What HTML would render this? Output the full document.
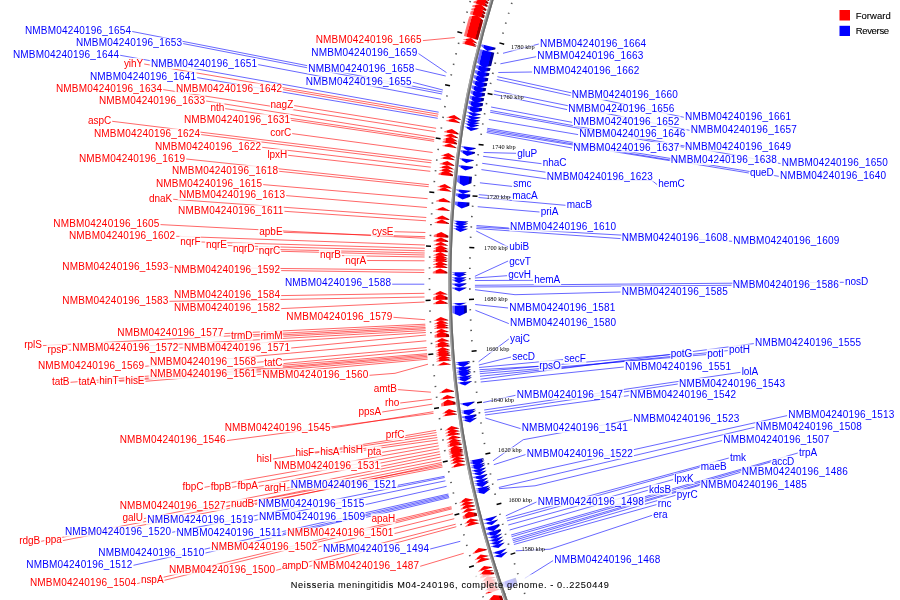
<!DOCTYPE html>
<html><head><meta charset="utf-8"><title>Neisseria meningitidis M04-240196 genome map</title>
<style>
html,body{margin:0;padding:0;background:#fff}
svg{display:block;will-change:transform}
text{font-family:"Liberation Sans",sans-serif;font-size:10px;letter-spacing:0.2px}
.r{fill:#f00}.b{fill:#00f}
.lr{stroke:#f00;stroke-width:.6;fill:none}
.lb{stroke:#00f;stroke-width:.6;fill:none}
.k{font-family:"Liberation Serif",serif;font-size:6.3px;letter-spacing:0;fill:#000;text-anchor:middle}
.bg{fill:#fff;fill-opacity:.85}
.t{fill:#000;font-size:9.2px;letter-spacing:0;stroke:#000;stroke-width:.07}
.s{letter-spacing:-.05px}
.lg{fill:#000;font-size:9.5px;letter-spacing:.3px;stroke:#000;stroke-width:.1}
</style></head><body>
<svg width="900" height="600" viewBox="0 0 900 600">
<defs>
<linearGradient id="gr" x1="0" x2="1" y1="0" y2="0"><stop offset="0" stop-color="#ff7c7c"/><stop offset=".18" stop-color="#ff6060"/><stop offset=".21" stop-color="#ff0000"/><stop offset=".79" stop-color="#ff0000"/><stop offset=".82" stop-color="#a80000"/><stop offset="1" stop-color="#960000"/></linearGradient>
<linearGradient id="gb" x1="0" x2="1" y1="0" y2="0"><stop offset="0" stop-color="#7c7cff"/><stop offset=".18" stop-color="#6060ff"/><stop offset=".21" stop-color="#0000ff"/><stop offset=".79" stop-color="#0000ff"/><stop offset=".82" stop-color="#0000a8"/><stop offset="1" stop-color="#000096"/></linearGradient>
<linearGradient id="gk" x1="0" x2="1" y1="0" y2="0"><stop offset="0" stop-color="#b4b4b4"/><stop offset=".45" stop-color="#a0a0a0"/><stop offset=".55" stop-color="#7a7a7a"/><stop offset="1" stop-color="#6a6a6a"/></linearGradient>
</defs>
<rect width="900" height="600" fill="#fff"/>

<path d="M495.1 -10A947.1 947.1 0 0 0 509.6 610" stroke="#808080" stroke-width="3.1" fill="none"/>
<path d="M494.1 -10A948 948 0 0 0 508.6 610" stroke="#a6a6a6" stroke-width="1.2" fill="none"/>
<path d="M496 -10A946.2 946.2 0 0 0 510.5 610" stroke="#6c6c6c" stroke-width="1.4" fill="none"/>
<polygon transform="translate(505.7 600.3) rotate(-19.82)" points="-9.5,-9 -2.2,-5.6 -2.2,9 -16.8,9 -16.8,-5.6" fill="url(#gr)"/>
<polygon transform="translate(501 586.8) rotate(-18.95)" points="-9.5,-2.2 -2.2,1.2 -2.2,2.2 -16.8,2.2 -16.8,1.2" fill="url(#gr)"/>
<polygon transform="translate(499.9 583.6) rotate(-18.75)" points="-9.5,-1.2 -2.2,2.2 -2.2,2.5 -16.8,2.5 -16.8,2.2" fill="url(#gr)"/>
<polygon transform="translate(499 580.9) rotate(-18.58)" points="-9.5,-1.7 -2.2,1.7 -2.2,2 -16.8,2 -16.8,1.7" fill="url(#gr)"/>
<polygon transform="translate(498.2 578.6) rotate(-18.43)" points="-9.5,-0.8 -2.2,2.6 -2.2,2.9 -16.8,2.9 -16.8,2.6" fill="url(#gr)"/>
<polygon transform="translate(497.6 576.8) rotate(-18.32)" points="-9.5,-1 -2.2,2.4 -2.2,2.7 -16.8,2.7 -16.8,2.4" fill="url(#gr)"/>
<polygon transform="translate(496.9 574.6) rotate(-18.17)" points="-9.5,-1.4 -2.2,2 -2.2,2.3 -16.8,2.3 -16.8,2" fill="url(#gr)"/>
<polygon transform="translate(495.7 570.9) rotate(-17.94)" points="-9.5,-2.5 -2.2,0.9 -2.2,2.5 -16.8,2.5 -16.8,0.9" fill="url(#gr)"/>
<polygon transform="translate(494.6 567.6) rotate(-17.73)" points="-9.5,-1 -2.2,2.4 -2.2,2.7 -16.8,2.7 -16.8,2.4" fill="url(#gr)"/>
<polygon transform="translate(493.7 564.9) rotate(-17.56)" points="-9.5,-1.9 -2.2,1.5 -2.2,1.9 -16.8,1.9 -16.8,1.5" fill="url(#gr)"/>
<polygon transform="translate(491.1 556.6) rotate(-17.03)" points="-9.5,-1.7 -2.2,1.7 -2.2,2 -16.8,2 -16.8,1.7" fill="url(#gr)"/>
<polygon transform="translate(490.2 553.4) rotate(-16.83)" points="-9.5,-1.7 -2.2,1.7 -2.2,2 -16.8,2 -16.8,1.7" fill="url(#gr)"/>
<polygon transform="translate(488.4 547.3) rotate(-16.45)" points="-9.5,-2.1 -2.2,1.3 -2.2,2.1 -16.8,2.1 -16.8,1.3" fill="url(#gr)"/>
<polygon transform="translate(480.9 520.6) rotate(-14.77)" points="-9.5,-1.6 -2.2,1.8 -2.2,2.1 -16.8,2.1 -16.8,1.8" fill="url(#gr)"/>
<polygon transform="translate(480.1 517.6) rotate(-14.58)" points="-9.5,-1.5 -2.2,1.9 -2.2,2.2 -16.8,2.2 -16.8,1.9" fill="url(#gr)"/>
<polygon transform="translate(478.7 512.2) rotate(-14.24)" points="-9.5,-3.1 -2.2,0.3 -2.2,3.1 -16.8,3.1 -16.8,0.3" fill="url(#gr)"/>
<polygon transform="translate(477.5 507.5) rotate(-13.95)" points="-9.5,-1.8 -2.2,1.6 -2.2,1.8 -16.8,1.8 -16.8,1.6" fill="url(#gr)"/>
<polygon transform="translate(476.6 503.7) rotate(-13.72)" points="-9.5,-2.1 -2.2,1.3 -2.2,2.1 -16.8,2.1 -16.8,1.3" fill="url(#gr)"/>
<polygon transform="translate(475.8 500.3) rotate(-13.50)" points="-9.5,-1.5 -2.2,1.9 -2.2,2.2 -16.8,2.2 -16.8,1.9" fill="url(#gr)"/>
<polygon transform="translate(475.1 497.4) rotate(-13.32)" points="-9.5,-1.6 -2.2,1.8 -2.2,2.1 -16.8,2.1 -16.8,1.8" fill="url(#gr)"/>
<polygon transform="translate(467.5 462.6) rotate(-11.17)" points="-9.5,-1.6 -2.2,1.8 -2.2,2.1 -16.8,2.1 -16.8,1.8" fill="url(#gr)"/>
<polygon transform="translate(466.9 459.2) rotate(-10.96)" points="-9.5,-1.9 -2.2,1.5 -2.2,1.9 -16.8,1.9 -16.8,1.5" fill="url(#gr)"/>
<polygon transform="translate(466.3 456) rotate(-10.76)" points="-9.5,-1.4 -2.2,2 -2.2,2.3 -16.8,2.3 -16.8,2" fill="url(#gr)"/>
<polygon transform="translate(465.7 453.3) rotate(-10.59)" points="-9.5,-1.5 -2.2,1.9 -2.2,2.2 -16.8,2.2 -16.8,1.9" fill="url(#gr)"/>
<polygon transform="translate(465.3 451.1) rotate(-10.46)" points="-9.5,-0.8 -2.2,2.6 -2.2,2.9 -16.8,2.9 -16.8,2.6" fill="url(#gr)"/>
<polygon transform="translate(465 449.2) rotate(-10.34)" points="-9.5,-1.1 -2.2,2.3 -2.2,2.6 -16.8,2.6 -16.8,2.3" fill="url(#gr)"/>
<polygon transform="translate(464.7 447.5) rotate(-10.24)" points="-9.5,-0.6 -2.2,2.8 -2.2,3.1 -16.8,3.1 -16.8,2.8" fill="url(#gr)"/>
<polygon transform="translate(464.5 446.3) rotate(-10.17)" points="-9.5,-0.7 -2.2,2.7 -2.2,3 -16.8,3 -16.8,2.7" fill="url(#gr)"/>
<polygon transform="translate(464.2 444.8) rotate(-10.07)" points="-9.5,-0.9 -2.2,2.5 -2.2,2.8 -16.8,2.8 -16.8,2.5" fill="url(#gr)"/>
<polygon transform="translate(463.8 442.3) rotate(-9.92)" points="-9.5,-1.7 -2.2,1.7 -2.2,2 -16.8,2 -16.8,1.7" fill="url(#gr)"/>
<polygon transform="translate(463.4 439.9) rotate(-9.77)" points="-9.5,-0.7 -2.2,2.7 -2.2,3 -16.8,3 -16.8,2.7" fill="url(#gr)"/>
<polygon transform="translate(463 438.1) rotate(-9.66)" points="-9.5,-1.2 -2.2,2.2 -2.2,2.5 -16.8,2.5 -16.8,2.2" fill="url(#gr)"/>
<polygon transform="translate(462.6 435.3) rotate(-9.49)" points="-9.5,-1.6 -2.2,1.8 -2.2,2.1 -16.8,2.1 -16.8,1.8" fill="url(#gr)"/>
<polygon transform="translate(462 431.9) rotate(-9.28)" points="-9.5,-1.9 -2.2,1.5 -2.2,1.9 -16.8,1.9 -16.8,1.5" fill="url(#gr)"/>
<polygon transform="translate(461.5 428.7) rotate(-9.09)" points="-9.5,-1.4 -2.2,2 -2.2,2.3 -16.8,2.3 -16.8,2" fill="url(#gr)"/>
<polygon transform="translate(461.1 426) rotate(-8.92)" points="-9.5,-1.5 -2.2,1.9 -2.2,2.2 -16.8,2.2 -16.8,1.9" fill="url(#gr)"/>
<polygon transform="translate(458.9 411.8) rotate(-8.05)" points="-9.5,-1.4 -2.2,2 -2.2,2.3 -16.8,2.3 -16.8,2" fill="url(#gr)"/>
<polygon transform="translate(458.6 409.1) rotate(-7.89)" points="-9.5,-1.4 -2.2,2 -2.2,2.3 -16.8,2.3 -16.8,2" fill="url(#gr)"/>
<polygon transform="translate(457.5 401.3) rotate(-7.41)" points="-9.5,-3 -2.2,0.4 -2.2,3 -16.8,3 -16.8,0.4" fill="url(#gr)"/>
<polygon transform="translate(456.8 395.8) rotate(-7.08)" points="-9.5,-2 -2.2,1.4 -2.2,2 -16.8,2 -16.8,1.4" fill="url(#gr)"/>
<polygon transform="translate(456 389.4) rotate(-6.69)" points="-9.5,-2 -2.2,1.4 -2.2,2 -16.8,2 -16.8,1.4" fill="url(#gr)"/>
<polygon transform="translate(453.3 362.7) rotate(-5.06)" points="-9.5,-1.5 -2.2,1.5 -16.8,1.5" fill="url(#gr)"/>
<polygon transform="translate(452.9 358.4) rotate(-4.80)" points="-9.5,-1.9 -2.2,1.5 -2.2,1.9 -16.8,1.9 -16.8,1.5" fill="url(#gr)"/>
<polygon transform="translate(452.7 355.5) rotate(-4.63)" points="-9.5,-1 -2.2,2.4 -2.2,2.7 -16.8,2.7 -16.8,2.4" fill="url(#gr)"/>
<polygon transform="translate(452.5 353.2) rotate(-4.48)" points="-9.5,-1.4 -2.2,2 -2.2,2.3 -16.8,2.3 -16.8,2" fill="url(#gr)"/>
<polygon transform="translate(452.3 351.1) rotate(-4.36)" points="-9.5,-0.7 -2.2,2.7 -2.2,3 -16.8,3 -16.8,2.7" fill="url(#gr)"/>
<polygon transform="translate(452.2 349.5) rotate(-4.26)" points="-9.5,-0.9 -2.2,2.5 -2.2,2.8 -16.8,2.8 -16.8,2.5" fill="url(#gr)"/>
<polygon transform="translate(452.1 347.5) rotate(-4.14)" points="-9.5,-1.1 -2.2,2.3 -2.2,2.6 -16.8,2.6 -16.8,2.3" fill="url(#gr)"/>
<polygon transform="translate(451.8 344.3) rotate(-3.95)" points="-9.5,-2.1 -2.2,1.3 -2.2,2.1 -16.8,2.1 -16.8,1.3" fill="url(#gr)"/>
<polygon transform="translate(451.6 341.4) rotate(-3.77)" points="-9.5,-0.9 -2.2,2.5 -2.2,2.8 -16.8,2.8 -16.8,2.5" fill="url(#gr)"/>
<polygon transform="translate(451.5 339) rotate(-3.62)" points="-9.5,-1.6 -2.2,1.8 -2.2,2.1 -16.8,2.1 -16.8,1.8" fill="url(#gr)"/>
<polygon transform="translate(451.2 333.9) rotate(-3.32)" points="-9.5,-3 -2.2,0.4 -2.2,3 -16.8,3 -16.8,0.4" fill="url(#gr)"/>
<polygon transform="translate(450.9 329.6) rotate(-3.05)" points="-9.5,-1.4 -2.2,2 -2.2,2.3 -16.8,2.3 -16.8,2" fill="url(#gr)"/>
<polygon transform="translate(450.8 326.2) rotate(-2.85)" points="-9.5,-2 -2.2,1.4 -2.2,2 -16.8,2 -16.8,1.4" fill="url(#gr)"/>
<polygon transform="translate(450.6 323.2) rotate(-2.67)" points="-9.5,-1 -2.2,2.4 -2.2,2.7 -16.8,2.7 -16.8,2.4" fill="url(#gr)"/>
<polygon transform="translate(450.5 321) rotate(-2.54)" points="-9.5,-1.2 -2.2,2.2 -2.2,2.5 -16.8,2.5 -16.8,2.2" fill="url(#gr)"/>
<polygon transform="translate(450.4 318.2) rotate(-2.37)" points="-9.5,-1.6 -2.2,1.8 -2.2,2.1 -16.8,2.1 -16.8,1.8" fill="url(#gr)"/>
<polygon transform="translate(449.9 301.7) rotate(-1.37)" points="-9.5,-2.1 -2.2,1.3 -2.2,2.1 -16.8,2.1 -16.8,1.3" fill="url(#gr)"/>
<polygon transform="translate(449.8 296.7) rotate(-1.07)" points="-9.5,-3 -2.2,0.4 -2.2,3 -16.8,3 -16.8,0.4" fill="url(#gr)"/>
<polygon transform="translate(449.7 292.3) rotate(-0.80)" points="-9.5,-1.5 -2.2,1.9 -2.2,2.2 -16.8,2.2 -16.8,1.9" fill="url(#gr)"/>
<polygon transform="translate(449.6 271.1) rotate(0.49)" points="-9.5,-2.5 -2.2,0.9 -2.2,2.5 -16.8,2.5 -16.8,0.9" fill="url(#gr)"/>
<polygon transform="translate(449.7 266.1) rotate(0.78)" points="-9.5,-2 -2.2,1.4 -2.2,2 -16.8,2 -16.8,1.4" fill="url(#gr)"/>
<polygon transform="translate(449.7 262.6) rotate(1.00)" points="-9.5,-1.1 -2.2,2.3 -2.2,2.6 -16.8,2.6 -16.8,2.3" fill="url(#gr)"/>
<polygon transform="translate(449.8 259.9) rotate(1.16)" points="-9.5,-1.6 -2.2,1.8 -2.2,2.1 -16.8,2.1 -16.8,1.8" fill="url(#gr)"/>
<polygon transform="translate(449.8 257.5) rotate(1.31)" points="-9.5,-0.8 -2.2,2.6 -2.2,2.9 -16.8,2.9 -16.8,2.6" fill="url(#gr)"/>
<polygon transform="translate(449.9 255.8) rotate(1.41)" points="-9.5,-1 -2.2,2.4 -2.2,2.7 -16.8,2.7 -16.8,2.4" fill="url(#gr)"/>
<polygon transform="translate(449.9 253.6) rotate(1.54)" points="-9.5,-1.3 -2.2,2.1 -2.2,2.4 -16.8,2.4 -16.8,2.1" fill="url(#gr)"/>
<polygon transform="translate(450 250) rotate(1.76)" points="-9.5,-2.4 -2.2,1 -2.2,2.4 -16.8,2.4 -16.8,1" fill="url(#gr)"/>
<polygon transform="translate(450.2 246.6) rotate(1.96)" points="-9.5,-1 -2.2,2.4 -2.2,2.7 -16.8,2.7 -16.8,2.4" fill="url(#gr)"/>
<polygon transform="translate(450.3 244) rotate(2.13)" points="-9.5,-1.8 -2.2,1.6 -2.2,1.9 -16.8,1.9 -16.8,1.6" fill="url(#gr)"/>
<polygon transform="translate(450.4 240) rotate(2.36)" points="-9.5,-2.2 -2.2,1.2 -2.2,2.2 -16.8,2.2 -16.8,1.2" fill="url(#gr)"/>
<polygon transform="translate(450.6 235.1) rotate(2.66)" points="-9.5,-2.7 -2.2,0.7 -2.2,2.7 -16.8,2.7 -16.8,0.7" fill="url(#gr)"/>
<polygon transform="translate(451.3 222.1) rotate(3.45)" points="-9.5,-2 -2.2,1.4 -2.2,2 -16.8,2 -16.8,1.4" fill="url(#gr)"/>
<polygon transform="translate(451.6 218.1) rotate(3.69)" points="-9.5,-2 -2.2,1.4 -2.2,2 -16.8,2 -16.8,1.4" fill="url(#gr)"/>
<polygon transform="translate(452.2 209.4) rotate(4.22)" points="-9.5,-1.8 -2.2,1.6 -2.2,1.8 -16.8,1.8 -16.8,1.6" fill="url(#gr)"/>
<polygon transform="translate(452.8 200.8) rotate(4.74)" points="-9.5,-2 -2.2,1.4 -2.2,2 -16.8,2 -16.8,1.4" fill="url(#gr)"/>
<polygon transform="translate(453.8 189.8) rotate(5.41)" points="-9.5,-1.6 -2.2,1.8 -2.2,2.1 -16.8,2.1 -16.8,1.8" fill="url(#gr)"/>
<polygon transform="translate(454.1 186.6) rotate(5.61)" points="-9.5,-1.6 -2.2,1.8 -2.2,2.1 -16.8,2.1 -16.8,1.8" fill="url(#gr)"/>
<polygon transform="translate(455.4 174.1) rotate(6.37)" points="-9.5,-2.5 -2.2,0.9 -2.2,2.5 -16.8,2.5 -16.8,0.9" fill="url(#gr)"/>
<polygon transform="translate(455.9 170.3) rotate(6.59)" points="-9.5,-1.3 -2.2,2.1 -2.2,2.4 -16.8,2.4 -16.8,2.1" fill="url(#gr)"/>
<polygon transform="translate(456.2 167.6) rotate(6.76)" points="-9.5,-1.5 -2.2,1.9 -2.2,2.2 -16.8,2.2 -16.8,1.9" fill="url(#gr)"/>
<polygon transform="translate(456.6 164.2) rotate(6.97)" points="-9.5,-2 -2.2,1.4 -2.2,2 -16.8,2 -16.8,1.4" fill="url(#gr)"/>
<polygon transform="translate(457.3 158.3) rotate(7.32)" points="-9.5,-1.4 -2.2,2 -2.2,2.3 -16.8,2.3 -16.8,2" fill="url(#gr)"/>
<polygon transform="translate(457.7 155.6) rotate(7.49)" points="-9.5,-1.4 -2.2,2 -2.2,2.3 -16.8,2.3 -16.8,2" fill="url(#gr)"/>
<polygon transform="translate(459 146.1) rotate(8.07)" points="-9.5,-1.3 -2.2,2.1 -2.2,2.4 -16.8,2.4 -16.8,2.1" fill="url(#gr)"/>
<polygon transform="translate(459.5 142.5) rotate(8.29)" points="-9.5,-2.4 -2.2,1 -2.2,2.4 -16.8,2.4 -16.8,1" fill="url(#gr)"/>
<polygon transform="translate(460 139.2) rotate(8.49)" points="-9.5,-1 -2.2,2.4 -2.2,2.7 -16.8,2.7 -16.8,2.4" fill="url(#gr)"/>
<polygon transform="translate(460.4 136.6) rotate(8.65)" points="-9.5,-1.8 -2.2,1.6 -2.2,1.9 -16.8,1.9 -16.8,1.6" fill="url(#gr)"/>
<polygon transform="translate(461 132.7) rotate(8.89)" points="-9.5,-2.2 -2.2,1.2 -2.2,2.2 -16.8,2.2 -16.8,1.2" fill="url(#gr)"/>
<polygon transform="translate(462.7 121.8) rotate(9.56)" points="-9.5,-1.8 -2.2,1.6 -2.2,1.9 -16.8,1.9 -16.8,1.6" fill="url(#gr)"/>
<polygon transform="translate(463.3 118.4) rotate(9.77)" points="-9.5,-1.8 -2.2,1.6 -2.2,1.9 -16.8,1.9 -16.8,1.6" fill="url(#gr)"/>
<polygon transform="translate(478.8 45.7) rotate(14.26)" points="-9.5,-1.7 -2.2,1.7 -2.2,2 -16.8,2 -16.8,1.7" fill="url(#gr)"/>
<polygon transform="translate(479.4 43.4) rotate(14.40)" points="-9.5,-0.7 -2.2,2.7 -2.2,3 -16.8,3 -16.8,2.7" fill="url(#gr)"/>
<polygon transform="translate(479.9 41.6) rotate(14.52)" points="-9.5,-1.2 -2.2,2.2 -2.2,2.5 -16.8,2.5 -16.8,2.2" fill="url(#gr)"/>
<polygon transform="translate(482.9 30) rotate(15.24)" points="-9.5,-10.9 -2.2,-7.5 -2.2,10.9 -16.8,10.9 -16.8,-7.5" fill="url(#gr)"/>
<polygon transform="translate(486.1 18.7) rotate(15.96)" points="-9.5,-1 -2.2,2.4 -2.2,4 -16.8,4 -16.8,2.4" fill="url(#gr)"/>
<polygon transform="translate(486.9 15.9) rotate(16.13)" points="-9.5,-1.9 -2.2,1.5 -2.2,3.1 -16.8,3.1 -16.8,1.5" fill="url(#gr)"/>
<polygon transform="translate(487.6 13.4) rotate(16.28)" points="-9.5,-0.7 -2.2,2.7 -2.2,4.3 -16.8,4.3 -16.8,2.7" fill="url(#gr)"/>
<polygon transform="translate(488.2 11.4) rotate(16.41)" points="-9.5,-1.4 -2.2,2 -2.2,3.6 -16.8,3.6 -16.8,2" fill="url(#gr)"/>
<polygon transform="translate(489.1 8.5) rotate(16.60)" points="-9.5,-1.8 -2.2,1.6 -2.2,3.2 -16.8,3.2 -16.8,1.6" fill="url(#gr)"/>
<polygon transform="translate(490.2 4.8) rotate(16.83)" points="-9.5,-2.1 -2.2,1.3 -2.2,2.9 -16.8,2.9 -16.8,1.3" fill="url(#gr)"/>
<polygon transform="translate(491.2 1.3) rotate(17.05)" points="-9.5,-1.5 -2.2,1.9 -2.2,3.5 -16.8,3.5 -16.8,1.9" fill="url(#gr)"/>
<polygon transform="translate(492.1 -1.6) rotate(17.24)" points="-9.5,-1.6 -2.2,1.8 -2.2,3.4 -16.8,3.4 -16.8,1.8" fill="url(#gr)"/>
<polygon transform="translate(478.7 46.2) rotate(14.23)" points="9.5,2.6 16.8,-0.8 16.8,-2.6 2.2,-2.6 2.2,-0.8" fill="url(#gb)"/>
<polygon transform="translate(476 57) rotate(13.56)" points="9.5,8.5 16.8,5.1 16.8,-8.5 2.2,-8.5 2.2,5.1" fill="url(#gb)"/>
<polygon transform="translate(473.4 67.9) rotate(12.88)" points="9.5,2.6 16.8,-0.8 16.8,-3.6 2.2,-3.6 2.2,-0.8" fill="url(#gb)"/>
<polygon transform="translate(472.3 73) rotate(12.56)" points="9.5,2.6 16.8,-0.8 16.8,-3.6 2.2,-3.6 2.2,-0.8" fill="url(#gb)"/>
<polygon transform="translate(471.2 78.1) rotate(12.25)" points="9.5,2.6 16.8,-0.8 16.8,-3.6 2.2,-3.6 2.2,-0.8" fill="url(#gb)"/>
<polygon transform="translate(470.1 83.2) rotate(11.93)" points="9.5,2.6 16.8,-0.8 16.8,-3.6 2.2,-3.6 2.2,-0.8" fill="url(#gb)"/>
<polygon transform="translate(469 88.3) rotate(11.62)" points="9.5,2.6 16.8,-0.8 16.8,-3.6 2.2,-3.6 2.2,-0.8" fill="url(#gb)"/>
<polygon transform="translate(468 93.4) rotate(11.30)" points="9.5,2.6 16.8,-0.8 16.8,-3.6 2.2,-3.6 2.2,-0.8" fill="url(#gb)"/>
<polygon transform="translate(467 98.6) rotate(10.99)" points="9.5,2.6 16.8,-0.8 16.8,-3.6 2.2,-3.6 2.2,-0.8" fill="url(#gb)"/>
<polygon transform="translate(466 103.7) rotate(10.67)" points="9.5,2.6 16.8,-0.8 16.8,-3.6 2.2,-3.6 2.2,-0.8" fill="url(#gb)"/>
<polygon transform="translate(465 108.8) rotate(10.36)" points="9.5,2.6 16.8,-0.8 16.8,-3.6 2.2,-3.6 2.2,-0.8" fill="url(#gb)"/>
<polygon transform="translate(464.3 113.1) rotate(10.09)" points="9.5,1.8 16.8,-1.6 16.8,-1.9 2.2,-1.9 2.2,-1.6" fill="url(#gb)"/>
<polygon transform="translate(463.6 116.6) rotate(9.88)" points="9.5,1.8 16.8,-1.6 16.8,-1.9 2.2,-1.9 2.2,-1.6" fill="url(#gb)"/>
<polygon transform="translate(463 120.6) rotate(9.63)" points="9.5,0.7 16.8,-2.7 16.8,-3 2.2,-3 2.2,-2.7" fill="url(#gb)"/>
<polygon transform="translate(462.6 122.5) rotate(9.51)" points="9.5,1.3 16.8,-2.1 16.8,-2.4 2.2,-2.4 2.2,-2.1" fill="url(#gb)"/>
<polygon transform="translate(462.2 125) rotate(9.36)" points="9.5,1.2 16.8,-2.2 16.8,-2.5 2.2,-2.5 2.2,-2.2" fill="url(#gb)"/>
<polygon transform="translate(461.8 127.8) rotate(9.19)" points="9.5,1.7 16.8,-1.7 16.8,-2 2.2,-2 2.2,-1.7" fill="url(#gb)"/>
<polygon transform="translate(458.8 147.7) rotate(7.97)" points="9.5,2 16.8,-1.4 16.8,-2 2.2,-2 2.2,-1.4" fill="url(#gb)"/>
<polygon transform="translate(458.1 152.2) rotate(7.70)" points="9.5,2.5 16.8,-0.9 16.8,-2.5 2.2,-2.5 2.2,-0.9" fill="url(#gb)"/>
<polygon transform="translate(457.1 159.8) rotate(7.23)" points="9.5,2 16.8,-1.4 16.8,-2 2.2,-2 2.2,-1.4" fill="url(#gb)"/>
<polygon transform="translate(456.2 167.1) rotate(6.79)" points="9.5,2.3 16.8,-1.1 16.8,-2.3 2.2,-2.3 2.2,-1.1" fill="url(#gb)"/>
<polygon transform="translate(454.8 180) rotate(6.00)" points="9.5,5 16.8,1.6 16.8,-5 2.2,-5 2.2,1.6" fill="url(#gb)"/>
<polygon transform="translate(453.7 191.1) rotate(5.33)" points="9.5,2 16.8,-1.4 16.8,-2 2.2,-2 2.2,-1.4" fill="url(#gb)"/>
<polygon transform="translate(453.3 195.9) rotate(5.04)" points="9.5,2.8 16.8,-0.6 16.8,-2.8 2.2,-2.8 2.2,-0.6" fill="url(#gb)"/>
<polygon transform="translate(452.5 204.5) rotate(4.52)" points="9.5,3.3 16.8,-0.1 16.8,-3.3 2.2,-3.3 2.2,-0.1" fill="url(#gb)"/>
<polygon transform="translate(451.3 223) rotate(3.39)" points="9.5,1.1 16.8,-2.3 16.8,-2.6 2.2,-2.6 2.2,-2.3" fill="url(#gb)"/>
<polygon transform="translate(451.1 225.2) rotate(3.26)" points="9.5,1 16.8,-2.4 16.8,-2.7 2.2,-2.7 2.2,-2.4" fill="url(#gb)"/>
<polygon transform="translate(451 227.7) rotate(3.11)" points="9.5,1.4 16.8,-2 16.8,-2.3 2.2,-2.3 2.2,-2" fill="url(#gb)"/>
<polygon transform="translate(450.9 230.3) rotate(2.95)" points="9.5,1.2 16.8,-2.2 16.8,-2.5 2.2,-2.5 2.2,-2.2" fill="url(#gb)"/>
<polygon transform="translate(449.6 274.9) rotate(0.25)" points="9.5,1 16.8,-2.4 16.8,-2.7 2.2,-2.7 2.2,-2.4" fill="url(#gb)"/>
<polygon transform="translate(449.6 276.8) rotate(0.14)" points="9.5,0.8 16.8,-2.6 16.8,-2.9 2.2,-2.9 2.2,-2.6" fill="url(#gb)"/>
<polygon transform="translate(449.6 279.3) rotate(-0.01)" points="9.5,1.7 16.8,-1.7 16.8,-2 2.2,-2 2.2,-1.7" fill="url(#gb)"/>
<polygon transform="translate(449.6 282.1) rotate(-0.18)" points="9.5,1.2 16.8,-2.2 16.8,-2.5 2.2,-2.5 2.2,-2.2" fill="url(#gb)"/>
<polygon transform="translate(449.6 285.5) rotate(-0.38)" points="9.5,2.1 16.8,-1.3 16.8,-2.1 2.2,-2.1 2.2,-1.3" fill="url(#gb)"/>
<polygon transform="translate(449.7 289.6) rotate(-0.64)" points="9.5,2 16.8,-1.4 16.8,-2 2.2,-2 2.2,-1.4" fill="url(#gb)"/>
<polygon transform="translate(449.9 304.5) rotate(-1.54)" points="9.5,1.3 16.8,-1.3 2.2,-1.3" fill="url(#gb)"/>
<polygon transform="translate(450.1 311.1) rotate(-1.93)" points="9.5,5.3 16.8,1.9 16.8,-5.3 2.2,-5.3 2.2,1.9" fill="url(#gb)"/>
<polygon transform="translate(453.5 364.5) rotate(-5.17)" points="9.5,1.6 16.8,-1.8 16.8,-2.1 2.2,-2.1 2.2,-1.8" fill="url(#gb)"/>
<polygon transform="translate(453.7 366.9) rotate(-5.32)" points="9.5,0.9 16.8,-2.5 16.8,-2.8 2.2,-2.8 2.2,-2.5" fill="url(#gb)"/>
<polygon transform="translate(454 370) rotate(-5.51)" points="9.5,2.2 16.8,-1.2 16.8,-2.2 2.2,-2.2 2.2,-1.2" fill="url(#gb)"/>
<polygon transform="translate(454.3 373.4) rotate(-5.71)" points="9.5,1.2 16.8,-2.2 16.8,-2.5 2.2,-2.5 2.2,-2.2" fill="url(#gb)"/>
<polygon transform="translate(454.5 375.4) rotate(-5.84)" points="9.5,0.9 16.8,-2.5 16.8,-2.8 2.2,-2.8 2.2,-2.5" fill="url(#gb)"/>
<polygon transform="translate(454.7 377.1) rotate(-5.93)" points="9.5,0.7 16.8,-2.7 16.8,-3 2.2,-3 2.2,-2.7" fill="url(#gb)"/>
<polygon transform="translate(454.9 379.3) rotate(-6.07)" points="9.5,1.5 16.8,-1.9 16.8,-2.2 2.2,-2.2 2.2,-1.9" fill="url(#gb)"/>
<polygon transform="translate(455.2 381.7) rotate(-6.22)" points="9.5,1 16.8,-2.4 16.8,-2.7 2.2,-2.7 2.2,-2.4" fill="url(#gb)"/>
<polygon transform="translate(455.5 384.7) rotate(-6.40)" points="9.5,1.9 16.8,-1.5 16.8,-1.9 2.2,-1.9 2.2,-1.5" fill="url(#gb)"/>
<polygon transform="translate(458.1 405.8) rotate(-7.68)" points="9.5,2 16.8,-1.4 16.8,-2 2.2,-2 2.2,-1.4" fill="url(#gb)"/>
<polygon transform="translate(459.1 413.1) rotate(-8.13)" points="9.5,1.7 16.8,-1.7 16.8,-2 2.2,-2 2.2,-1.7" fill="url(#gb)"/>
<polygon transform="translate(459.5 415.7) rotate(-8.29)" points="9.5,0.9 16.8,-2.5 16.8,-2.8 2.2,-2.8 2.2,-2.5" fill="url(#gb)"/>
<polygon transform="translate(460 419.1) rotate(-8.50)" points="9.5,2.4 16.8,-1 16.8,-2.4 2.2,-2.4 2.2,-1" fill="url(#gb)"/>
<polygon transform="translate(460.5 422.7) rotate(-8.72)" points="9.5,1.3 16.8,-2.1 16.8,-2.4 2.2,-2.4 2.2,-2.1" fill="url(#gb)"/>
<polygon transform="translate(467.8 463.8) rotate(-11.24)" points="9.5,1 16.8,-2.4 16.8,-2.7 2.2,-2.7 2.2,-2.4" fill="url(#gb)"/>
<polygon transform="translate(468.1 465.5) rotate(-11.35)" points="9.5,0.7 16.8,-2.7 16.8,-3 2.2,-3 2.2,-2.7" fill="url(#gb)"/>
<polygon transform="translate(468.4 466.8) rotate(-11.43)" points="9.5,0.6 16.8,-2.8 16.8,-3.1 2.2,-3.1 2.2,-2.8" fill="url(#gb)"/>
<polygon transform="translate(468.8 468.6) rotate(-11.54)" points="9.5,1.2 16.8,-2.2 16.8,-2.5 2.2,-2.5 2.2,-2.2" fill="url(#gb)"/>
<polygon transform="translate(469.2 470.7) rotate(-11.67)" points="9.5,0.9 16.8,-2.5 16.8,-2.8 2.2,-2.8 2.2,-2.5" fill="url(#gb)"/>
<polygon transform="translate(469.7 473.1) rotate(-11.82)" points="9.5,1.6 16.8,-1.8 16.8,-2.1 2.2,-2.1 2.2,-1.8" fill="url(#gb)"/>
<polygon transform="translate(470.3 476.1) rotate(-12.00)" points="9.5,1.5 16.8,-1.9 16.8,-2.2 2.2,-2.2 2.2,-1.9" fill="url(#gb)"/>
<polygon transform="translate(471.1 479.6) rotate(-12.22)" points="9.5,2.1 16.8,-1.3 16.8,-2.1 2.2,-2.1 2.2,-1.3" fill="url(#gb)"/>
<polygon transform="translate(471.9 483.4) rotate(-12.45)" points="9.5,1.7 16.8,-1.7 16.8,-2 2.2,-2 2.2,-1.7" fill="url(#gb)"/>
<polygon transform="translate(472.6 486.4) rotate(-12.64)" points="9.5,1.3 16.8,-2.1 16.8,-2.4 2.2,-2.4 2.2,-2.1" fill="url(#gb)"/>
<polygon transform="translate(473 488.4) rotate(-12.77)" points="9.5,0.7 16.8,-2.7 16.8,-3 2.2,-3 2.2,-2.7" fill="url(#gb)"/>
<polygon transform="translate(473.6 491) rotate(-12.92)" points="9.5,1.8 16.8,-1.6 16.8,-1.9 2.2,-1.9 2.2,-1.6" fill="url(#gb)"/>
<polygon transform="translate(474.2 493.8) rotate(-13.10)" points="9.5,1 16.8,-2.4 16.8,-2.7 2.2,-2.7 2.2,-2.4" fill="url(#gb)"/>
<polygon transform="translate(474.6 495.5) rotate(-13.20)" points="9.5,0.7 16.8,-2.7 16.8,-3 2.2,-3 2.2,-2.7" fill="url(#gb)"/>
<polygon transform="translate(481.2 521.8) rotate(-14.84)" points="9.5,1.9 16.8,-1.5 16.8,-1.9 2.2,-1.9 2.2,-1.5" fill="url(#gb)"/>
<polygon transform="translate(482.2 525.6) rotate(-15.08)" points="9.5,1.9 16.8,-1.5 16.8,-1.9 2.2,-1.9 2.2,-1.5" fill="url(#gb)"/>
<polygon transform="translate(483.7 531) rotate(-15.42)" points="9.5,2.6 16.8,-0.8 16.8,-2.6 2.2,-2.6 2.2,-0.8" fill="url(#gb)"/>
<polygon transform="translate(485.1 536.1) rotate(-15.74)" points="9.5,2.6 16.8,-0.8 16.8,-2.6 2.2,-2.6 2.2,-0.8" fill="url(#gb)"/>
<polygon transform="translate(486.3 540.1) rotate(-15.99)" points="9.5,1.6 16.8,-1.8 16.8,-2.1 2.2,-2.1 2.2,-1.8" fill="url(#gb)"/>
<polygon transform="translate(487.1 543.1) rotate(-16.18)" points="9.5,1.6 16.8,-1.8 16.8,-2.1 2.2,-2.1 2.2,-1.8" fill="url(#gb)"/>
<polygon transform="translate(488 546.2) rotate(-16.37)" points="9.5,1.6 16.8,-1.8 16.8,-2.1 2.2,-2.1 2.2,-1.8" fill="url(#gb)"/>
<polygon transform="translate(488.9 549.2) rotate(-16.57)" points="9.5,1.6 16.8,-1.8 16.8,-2.1 2.2,-2.1 2.2,-1.8" fill="url(#gb)"/>
<polygon transform="translate(490.8 555.4) rotate(-16.96)" points="9.5,1.7 16.8,-1.7 16.8,-2 2.2,-2 2.2,-1.7" fill="url(#gb)"/>
<polygon transform="translate(491.8 558.7) rotate(-17.16)" points="9.5,1.7 16.8,-1.7 16.8,-2 2.2,-2 2.2,-1.7" fill="url(#gb)"/>
<polygon transform="translate(501.1 587.1) rotate(-18.97)" points="9.5,4.2 16.8,0.8 16.8,-4.2 2.2,-4.2 2.2,0.8" fill="url(#gb)"/>
<line x1="491.3" y1="616.8" x2="486.6" y2="618.6" stroke="#000" stroke-width="1.5"/>
<line x1="527.3" y1="603.4" x2="532" y2="601.7" stroke="#000" stroke-width="1.5"/>
<line x1="487.5" y1="606.7" x2="485.9" y2="607.3" stroke="#555" stroke-width="1.3"/>
<line x1="523.8" y1="593.6" x2="525.4" y2="593.1" stroke="#555" stroke-width="1.3"/>
<line x1="483.9" y1="596.5" x2="482.3" y2="597.1" stroke="#555" stroke-width="1.3"/>
<line x1="520.4" y1="583.9" x2="522" y2="583.3" stroke="#555" stroke-width="1.3"/>
<line x1="480.4" y1="586.3" x2="478.8" y2="586.9" stroke="#555" stroke-width="1.3"/>
<line x1="517" y1="574.1" x2="518.6" y2="573.5" stroke="#555" stroke-width="1.3"/>
<line x1="477" y1="576.1" x2="475.4" y2="576.6" stroke="#555" stroke-width="1.3"/>
<line x1="513.8" y1="564.2" x2="515.4" y2="563.7" stroke="#555" stroke-width="1.3"/>
<line x1="473.9" y1="565.7" x2="469.1" y2="567.2" stroke="#000" stroke-width="1.5"/>
<line x1="510.6" y1="554.4" x2="515.3" y2="552.9" stroke="#000" stroke-width="1.5"/>
<line x1="470.6" y1="555.4" x2="469" y2="555.9" stroke="#555" stroke-width="1.3"/>
<line x1="507.6" y1="544.4" x2="509.3" y2="543.9" stroke="#555" stroke-width="1.3"/>
<line x1="467.6" y1="545.1" x2="466" y2="545.6" stroke="#555" stroke-width="1.3"/>
<line x1="504.7" y1="534.5" x2="506.4" y2="534" stroke="#555" stroke-width="1.3"/>
<line x1="464.7" y1="534.7" x2="463.1" y2="535.1" stroke="#555" stroke-width="1.3"/>
<line x1="501.9" y1="524.5" x2="503.6" y2="524" stroke="#555" stroke-width="1.3"/>
<line x1="461.9" y1="524.3" x2="460.3" y2="524.7" stroke="#555" stroke-width="1.3"/>
<line x1="499.2" y1="514.5" x2="500.9" y2="514" stroke="#555" stroke-width="1.3"/>
<line x1="459.3" y1="513.8" x2="454.5" y2="515" stroke="#000" stroke-width="1.5"/>
<line x1="496.6" y1="504.5" x2="501.4" y2="503.2" stroke="#000" stroke-width="1.5"/>
<line x1="456.7" y1="503.3" x2="455" y2="503.7" stroke="#555" stroke-width="1.3"/>
<line x1="494.2" y1="494.4" x2="495.9" y2="494" stroke="#555" stroke-width="1.3"/>
<line x1="454.2" y1="492.8" x2="452.6" y2="493.2" stroke="#555" stroke-width="1.3"/>
<line x1="491.9" y1="484.3" x2="493.5" y2="483.9" stroke="#555" stroke-width="1.3"/>
<line x1="451.9" y1="482.3" x2="450.2" y2="482.6" stroke="#555" stroke-width="1.3"/>
<line x1="489.6" y1="474.1" x2="491.3" y2="473.8" stroke="#555" stroke-width="1.3"/>
<line x1="449.7" y1="471.7" x2="448" y2="472" stroke="#555" stroke-width="1.3"/>
<line x1="487.5" y1="464" x2="489.2" y2="463.7" stroke="#555" stroke-width="1.3"/>
<line x1="447.7" y1="461.1" x2="442.8" y2="462" stroke="#000" stroke-width="1.5"/>
<line x1="485.4" y1="453.9" x2="490.3" y2="452.9" stroke="#000" stroke-width="1.5"/>
<line x1="445.6" y1="450.5" x2="443.9" y2="450.8" stroke="#555" stroke-width="1.3"/>
<line x1="483.6" y1="443.6" x2="485.3" y2="443.3" stroke="#555" stroke-width="1.3"/>
<line x1="443.8" y1="439.8" x2="442.1" y2="440.1" stroke="#555" stroke-width="1.3"/>
<line x1="481.8" y1="433.4" x2="483.5" y2="433.1" stroke="#555" stroke-width="1.3"/>
<line x1="442" y1="429.2" x2="440.3" y2="429.5" stroke="#555" stroke-width="1.3"/>
<line x1="480.2" y1="423.2" x2="481.8" y2="422.9" stroke="#555" stroke-width="1.3"/>
<line x1="440.4" y1="418.5" x2="438.7" y2="418.8" stroke="#555" stroke-width="1.3"/>
<line x1="478.6" y1="413" x2="480.3" y2="412.7" stroke="#555" stroke-width="1.3"/>
<line x1="439" y1="407.8" x2="434.1" y2="408.5" stroke="#000" stroke-width="1.5"/>
<line x1="477.1" y1="402.7" x2="482" y2="402" stroke="#000" stroke-width="1.5"/>
<line x1="437.5" y1="397.1" x2="435.8" y2="397.3" stroke="#555" stroke-width="1.3"/>
<line x1="475.8" y1="392.4" x2="477.5" y2="392.2" stroke="#555" stroke-width="1.3"/>
<line x1="436.3" y1="386.4" x2="434.6" y2="386.6" stroke="#555" stroke-width="1.3"/>
<line x1="474.6" y1="382.1" x2="476.3" y2="381.9" stroke="#555" stroke-width="1.3"/>
<line x1="435.1" y1="375.7" x2="433.4" y2="375.8" stroke="#555" stroke-width="1.3"/>
<line x1="473.5" y1="371.8" x2="475.2" y2="371.6" stroke="#555" stroke-width="1.3"/>
<line x1="434.1" y1="364.9" x2="432.4" y2="365.1" stroke="#555" stroke-width="1.3"/>
<line x1="472.6" y1="361.5" x2="474.3" y2="361.3" stroke="#555" stroke-width="1.3"/>
<line x1="433.3" y1="354.1" x2="428.3" y2="354.5" stroke="#000" stroke-width="1.5"/>
<line x1="471.6" y1="351.2" x2="476.6" y2="350.8" stroke="#000" stroke-width="1.5"/>
<line x1="432.4" y1="343.4" x2="430.7" y2="343.5" stroke="#555" stroke-width="1.3"/>
<line x1="471" y1="340.8" x2="472.7" y2="340.7" stroke="#555" stroke-width="1.3"/>
<line x1="431.8" y1="332.6" x2="430.1" y2="332.7" stroke="#555" stroke-width="1.3"/>
<line x1="470.3" y1="330.5" x2="472" y2="330.4" stroke="#555" stroke-width="1.3"/>
<line x1="431.2" y1="321.8" x2="429.5" y2="321.9" stroke="#555" stroke-width="1.3"/>
<line x1="469.8" y1="320.1" x2="471.5" y2="320" stroke="#555" stroke-width="1.3"/>
<line x1="430.8" y1="311" x2="429.1" y2="311.1" stroke="#555" stroke-width="1.3"/>
<line x1="469.4" y1="309.8" x2="471.1" y2="309.7" stroke="#555" stroke-width="1.3"/>
<line x1="430.6" y1="300.2" x2="425.6" y2="300.4" stroke="#000" stroke-width="1.5"/>
<line x1="469" y1="299.4" x2="474" y2="299.3" stroke="#000" stroke-width="1.5"/>
<line x1="430.4" y1="289.5" x2="428.7" y2="289.5" stroke="#555" stroke-width="1.3"/>
<line x1="469" y1="289" x2="470.7" y2="289" stroke="#555" stroke-width="1.3"/>
<line x1="430.3" y1="278.7" x2="428.6" y2="278.7" stroke="#555" stroke-width="1.3"/>
<line x1="468.9" y1="278.7" x2="470.6" y2="278.7" stroke="#555" stroke-width="1.3"/>
<line x1="430.4" y1="267.9" x2="428.7" y2="267.8" stroke="#555" stroke-width="1.3"/>
<line x1="469" y1="268.3" x2="470.7" y2="268.3" stroke="#555" stroke-width="1.3"/>
<line x1="430.6" y1="257.1" x2="428.9" y2="257" stroke="#555" stroke-width="1.3"/>
<line x1="469.1" y1="257.9" x2="470.8" y2="258" stroke="#555" stroke-width="1.3"/>
<line x1="431" y1="246.3" x2="426" y2="246.1" stroke="#000" stroke-width="1.5"/>
<line x1="469.3" y1="247.6" x2="474.3" y2="247.8" stroke="#000" stroke-width="1.5"/>
<line x1="431.3" y1="235.5" x2="429.6" y2="235.4" stroke="#555" stroke-width="1.3"/>
<line x1="469.8" y1="237.2" x2="471.5" y2="237.3" stroke="#555" stroke-width="1.3"/>
<line x1="431.8" y1="224.7" x2="430.1" y2="224.6" stroke="#555" stroke-width="1.3"/>
<line x1="470.4" y1="226.9" x2="472.1" y2="227" stroke="#555" stroke-width="1.3"/>
<line x1="432.5" y1="213.9" x2="430.8" y2="213.8" stroke="#555" stroke-width="1.3"/>
<line x1="471" y1="216.5" x2="472.7" y2="216.6" stroke="#555" stroke-width="1.3"/>
<line x1="433.3" y1="203.2" x2="431.6" y2="203" stroke="#555" stroke-width="1.3"/>
<line x1="471.8" y1="206.2" x2="473.5" y2="206.3" stroke="#555" stroke-width="1.3"/>
<line x1="434.3" y1="192.4" x2="429.3" y2="192" stroke="#000" stroke-width="1.5"/>
<line x1="472.5" y1="195.9" x2="477.5" y2="196.3" stroke="#000" stroke-width="1.5"/>
<line x1="435.2" y1="181.7" x2="433.5" y2="181.5" stroke="#555" stroke-width="1.3"/>
<line x1="473.6" y1="185.6" x2="475.3" y2="185.7" stroke="#555" stroke-width="1.3"/>
<line x1="436.4" y1="170.9" x2="434.7" y2="170.7" stroke="#555" stroke-width="1.3"/>
<line x1="474.7" y1="175.2" x2="476.4" y2="175.4" stroke="#555" stroke-width="1.3"/>
<line x1="437.6" y1="160.2" x2="436" y2="160" stroke="#555" stroke-width="1.3"/>
<line x1="475.9" y1="165" x2="477.6" y2="165.2" stroke="#555" stroke-width="1.3"/>
<line x1="439" y1="149.5" x2="437.3" y2="149.3" stroke="#555" stroke-width="1.3"/>
<line x1="477.3" y1="154.7" x2="479" y2="154.9" stroke="#555" stroke-width="1.3"/>
<line x1="440.6" y1="138.8" x2="435.7" y2="138.1" stroke="#000" stroke-width="1.5"/>
<line x1="478.6" y1="144.4" x2="483.6" y2="145.1" stroke="#000" stroke-width="1.5"/>
<line x1="442.2" y1="128.1" x2="440.5" y2="127.9" stroke="#555" stroke-width="1.3"/>
<line x1="480.3" y1="134.2" x2="482" y2="134.4" stroke="#555" stroke-width="1.3"/>
<line x1="443.9" y1="117.5" x2="442.2" y2="117.2" stroke="#555" stroke-width="1.3"/>
<line x1="482" y1="123.9" x2="483.6" y2="124.2" stroke="#555" stroke-width="1.3"/>
<line x1="445.8" y1="106.8" x2="444.1" y2="106.5" stroke="#555" stroke-width="1.3"/>
<line x1="483.8" y1="113.7" x2="485.4" y2="114" stroke="#555" stroke-width="1.3"/>
<line x1="447.8" y1="96.2" x2="446.1" y2="95.9" stroke="#555" stroke-width="1.3"/>
<line x1="485.7" y1="103.5" x2="487.3" y2="103.9" stroke="#555" stroke-width="1.3"/>
<line x1="450" y1="85.7" x2="445.1" y2="84.7" stroke="#000" stroke-width="1.5"/>
<line x1="487.6" y1="93.4" x2="492.5" y2="94.4" stroke="#000" stroke-width="1.5"/>
<line x1="452.1" y1="75.1" x2="450.4" y2="74.7" stroke="#555" stroke-width="1.3"/>
<line x1="489.8" y1="83.2" x2="491.5" y2="83.6" stroke="#555" stroke-width="1.3"/>
<line x1="454.4" y1="64.5" x2="452.8" y2="64.2" stroke="#555" stroke-width="1.3"/>
<line x1="492" y1="73.1" x2="493.7" y2="73.5" stroke="#555" stroke-width="1.3"/>
<line x1="456.9" y1="54" x2="455.2" y2="53.6" stroke="#555" stroke-width="1.3"/>
<line x1="494.4" y1="63" x2="496.1" y2="63.4" stroke="#555" stroke-width="1.3"/>
<line x1="459.4" y1="43.5" x2="457.8" y2="43.1" stroke="#555" stroke-width="1.3"/>
<line x1="496.9" y1="52.9" x2="498.5" y2="53.4" stroke="#555" stroke-width="1.3"/>
<line x1="462.2" y1="33.1" x2="457.4" y2="31.8" stroke="#000" stroke-width="1.5"/>
<line x1="499.4" y1="42.9" x2="504.2" y2="44.2" stroke="#000" stroke-width="1.5"/>
<line x1="464.9" y1="22.7" x2="463.3" y2="22.2" stroke="#555" stroke-width="1.3"/>
<line x1="502.2" y1="32.9" x2="503.8" y2="33.4" stroke="#555" stroke-width="1.3"/>
<line x1="467.9" y1="12.3" x2="466.2" y2="11.8" stroke="#555" stroke-width="1.3"/>
<line x1="505" y1="22.9" x2="506.6" y2="23.4" stroke="#555" stroke-width="1.3"/>
<line x1="470.9" y1="1.9" x2="469.3" y2="1.4" stroke="#555" stroke-width="1.3"/>
<line x1="507.9" y1="13" x2="509.5" y2="13.5" stroke="#555" stroke-width="1.3"/>
<line x1="474" y1="-8.4" x2="472.4" y2="-8.9" stroke="#555" stroke-width="1.3"/>
<line x1="510.9" y1="3.1" x2="512.5" y2="3.6" stroke="#555" stroke-width="1.3"/>
<line x1="477.4" y1="-18.7" x2="472.7" y2="-20.2" stroke="#000" stroke-width="1.5"/>
<line x1="513.9" y1="-6.8" x2="518.7" y2="-5.3" stroke="#000" stroke-width="1.5"/>
<polyline class="lr" points="422.9,40.6 454.8,37.6"/>
<polyline class="lb" points="418.5,53.6 446.5,72.6"/>
<polyline class="lb" points="415.5,69 445.7,76"/>
<polyline class="lb" points="412.9,82.3 442.9,90"/>
<polyline class="lb" points="132.2,31.5 442.5,92"/>
<polyline class="lb" points="183.2,43.6 442.1,94"/>
<polyline class="lb" points="258.2,64.6 441.1,99.3"/>
<polyline class="lb" points="120.2,55.3 438.7,112.2"/>
<polyline class="lr" points="144.2,64 438.4,114.2"/>
<polyline class="lr" points="283.2,89.6 438,116.2"/>
<polyline class="lb" points="197.2,77.6 437.7,118.3"/>
<polyline class="lr" points="294.2,105.6 436.1,128.3"/>
<polyline class="lr" points="163.2,89.6 435.5,131.7"/>
<polyline class="lr" points="206.2,101 434.7,137.5"/>
<polyline class="lr" points="225.2,108.6 434.3,139.7"/>
<polyline class="lr" points="291.2,120.3 434.1,141.3"/>
<polyline class="lr" points="292.2,133.6 432.6,152.5"/>
<polyline class="lr" points="112.2,121.3 431.6,160.5"/>
<polyline class="lr" points="201.2,134.6 431.3,162.8"/>
<polyline class="lr" points="262.2,147.3 430.8,167.2"/>
<polyline class="lr" points="288.2,155.3 430.3,171.3"/>
<polyline class="lr" points="186.2,159 428.9,184.7"/>
<polyline class="lr" points="279.2,171.3 428.7,186.7"/>
<polyline class="lr" points="263.2,184.6 427.6,198.7"/>
<polyline class="lr" points="286.2,195.6 426.9,207.5"/>
<polyline class="lr" points="173.2,199.3 426.3,217.5"/>
<polyline class="lr" points="284.5,211.3 426,220.8"/>
<polyline class="lr" points="394.5,231.7 425.4,232.5"/>
<polyline class="lr" points="283.5,232.3 425.2,236.7"/>
<polyline class="lr" points="160.5,224.6 425.2,238.3"/>
<polyline class="lr" points="176.2,236.3 424.9,245"/>
<polyline class="lr" points="201.5,242 424.8,248.3"/>
<polyline class="lr" points="227.9,245.6 424.7,250.8"/>
<polyline class="lr" points="255.5,249 424.7,253"/>
<polyline class="lr" points="281.2,251.3 424.6,255"/>
<polyline class="lr" points="341.9,255.6 424.6,257"/>
<polyline class="lr" points="367.2,260.5 424.5,260.8"/>
<polyline class="lr" points="169.5,267.3 424.3,270"/>
<polyline class="lr" points="281.2,270.6 424.3,272.5"/>
<polyline class="lb" points="392.2,284.2 424.3,284.2"/>
<polyline class="lr" points="281.2,295.6 424.4,293.3"/>
<polyline class="lr" points="169.5,301.3 424.5,297"/>
<polyline class="lr" points="281.2,308.6 424.6,302"/>
<polyline class="lr" points="393.5,317.3 425.1,319.7"/>
<polyline class="lr" points="224.5,333.6 425.3,324.2"/>
<polyline class="lr" points="42.9,345.6 425.4,325.8"/>
<polyline class="lr" points="253.5,336.3 425.5,327.5"/>
<polyline class="lr" points="283.5,336.3 425.6,328.8"/>
<polyline class="lr" points="68.9,350.3 425.7,330.5"/>
<polyline class="lr" points="179.5,348 425.8,332.5"/>
<polyline class="lr" points="291.2,348 425.9,335"/>
<polyline class="lr" points="145.2,366.3 426.3,340.8"/>
<polyline class="lr" points="257.2,362.3 426.7,347.5"/>
<polyline class="lr" points="283.5,363.6 426.9,350"/>
<polyline class="lr" points="70.5,382.3 427.2,353.7"/>
<polyline class="lr" points="97.2,382.3 427.3,355"/>
<polyline class="lr" points="119.5,381.3 427.4,356.3"/>
<polyline class="lr" points="145.5,381.3 427.5,357.7"/>
<polyline class="lr" points="257.2,374.6 427.6,359.2"/>
<polyline class="lr" points="369.5,375.3 395,373.3 428,364.2"/>
<polyline class="lr" points="397.9,389.6 430.9,392.2"/>
<polyline class="lr" points="400.2,403 431.7,399.2"/>
<polyline class="lr" points="382.2,412 432.4,404.2"/>
<polyline class="lr" points="331.9,428 433.4,411.7"/>
<polyline class="lr" points="226.9,440.6 433.6,413.3"/>
<polyline class="lr" points="405.5,435.6 436.1,430.3"/>
<polyline class="lr" points="272.9,459 436.5,432.5"/>
<polyline class="lr" points="315.2,453 436.9,435"/>
<polyline class="lr" points="340.5,452 437.3,437.5"/>
<polyline class="lr" points="363.9,450.3 437.7,440"/>
<polyline class="lr" points="382.2,452.3 438.2,443"/>
<polyline class="lr" points="204.5,487.3 438.7,445.8"/>
<polyline class="lr" points="232.2,487.3 439.2,448.7"/>
<polyline class="lr" points="258.9,486.3 439.7,451.7"/>
<polyline class="lr" points="381.2,466.3 440.2,454.2"/>
<polyline class="lr" points="286.9,488 440.7,457"/>
<polyline class="lr" points="143.9,518.6 441.3,460"/>
<polyline class="lr" points="226.9,506.3 441.7,462.5"/>
<polyline class="lr" points="255.2,504.6 442,464"/>
<polyline class="lr" points="41.2,541.3 442.3,465.5"/>
<polyline class="lr" points="62.9,540.6 442.6,467"/>
<polyline class="lb" points="397.9,485.3 444.5,476.3"/>
<polyline class="lb" points="172.2,532.3 444.7,477.5"/>
<polyline class="lb" points="254.5,520.3 445.4,480.8"/>
<polyline class="lb" points="365.5,504.6 446.6,486.3"/>
<polyline class="lb" points="133.5,565.3 448.3,494"/>
<polyline class="lb" points="282.9,533.6 448.6,495.2"/>
<polyline class="lb" points="205.5,553 448.9,496.4"/>
<polyline class="lb" points="366.2,517.3 449.2,497.6"/>
<polyline class="lr" points="396.2,519.6 451.3,506.7"/>
<polyline class="lr" points="137.2,583.6 451.6,507.8"/>
<polyline class="lr" points="164.5,580.3 451.8,508.9"/>
<polyline class="lr" points="318.5,547 453,513.7"/>
<polyline class="lr" points="394.5,533.6 454.3,518.7"/>
<polyline class="lr" points="276.2,570.3 455.7,524.2"/>
<polyline class="lr" points="309.5,566.3 456.3,526.7"/>
<polyline class="lb" points="430.2,549 460.3,541.3"/>
<polyline class="lr" points="420.2,566.3 463.7,553.3"/>
<polyline class="lb" points="503,53.3 538.8,44"/>
<polyline class="lb" points="500.4,63.8 536.1,56.7"/>
<polyline class="lb" points="498.3,72.5 532.1,72"/>
<polyline class="lb" points="497.4,76.7 683.8,117.3"/>
<polyline class="lb" points="496.8,79.5 570.5,95.6"/>
<polyline class="lb" points="494.3,90.8 689.5,130.3"/>
<polyline class="lb" points="493.6,94.2 567.1,109.6"/>
<polyline class="lb" points="491.1,107 572.1,122.3"/>
<polyline class="lb" points="490.4,110.5 780.5,163.6"/>
<polyline class="lb" points="490.1,112.2 683.8,147.3"/>
<polyline class="lb" points="488.8,119.5 578.1,134.6"/>
<polyline class="lb" points="487.3,128.3 778.8,176.3"/>
<polyline class="lb" points="487.1,129.7 748.8,173"/>
<polyline class="lb" points="486.9,131.1 669.5,160.6"/>
<polyline class="lb" points="486.6,132.5 572.1,148"/>
<polyline class="lb" points="483.6,152.5 516.1,153.3"/>
<polyline class="lb" points="483.1,156.3 541.5,163.7"/>
<polyline class="lb" points="482.2,163.3 545.5,172.2"/>
<polyline class="lb" points="481.4,169.6 545.3,178.7 652,180.5 657.1,184.6"/>
<polyline class="lb" points="479.9,182.8 512.1,186.4"/>
<polyline class="lb" points="478.8,194.7 511.1,197.3"/>
<polyline class="lb" points="478.5,197.5 565.5,205.3"/>
<polyline class="lb" points="477.7,206.7 539.5,212"/>
<polyline class="lb" points="476.5,225.5 508.8,228"/>
<polyline class="lb" points="476.4,227 732.1,241.3"/>
<polyline class="lb" points="476.3,228.5 620.5,238.6"/>
<polyline class="lb" points="476.2,231 508.1,247"/>
<polyline class="lb" points="474.9,276.3 508.1,261"/>
<polyline class="lb" points="474.9,278 507.1,275.7"/>
<polyline class="lb" points="474.9,280.5 533.1,280.3"/>
<polyline class="lb" points="474.9,285.3 843.8,282.3"/>
<polyline class="lb" points="474.9,287 731.5,285.3"/>
<polyline class="lb" points="475,289.7 515,294.7 620.5,292"/>
<polyline class="lb" points="475.2,304.5 508.1,308"/>
<polyline class="lb" points="475.4,310.3 508.8,323.6"/>
<polyline class="lb" points="478.6,361.7 508.8,339"/>
<polyline class="lb" points="478.9,365 511.1,357"/>
<polyline class="lb" points="479.1,367.5 563.1,359.6"/>
<polyline class="lb" points="479.4,369.7 538.1,366.3"/>
<polyline class="lb" points="479.6,371.7 669.5,354.6"/>
<polyline class="lb" points="479.8,373.7 706.1,354.6"/>
<polyline class="lb" points="480,376.3 727.8,350.6"/>
<polyline class="lb" points="480.3,379.2 753.8,343.6"/>
<polyline class="lb" points="480.7,382 623.8,367"/>
<polyline class="lb" points="483.2,402.5 515.5,395.3"/>
<polyline class="lb" points="484.2,410 740.5,372.3"/>
<polyline class="lb" points="484.6,412.5 677.8,384"/>
<polyline class="lb" points="485,415 628.8,395.6"/>
<polyline class="lb" points="485.4,418 520.5,428.6"/>
<polyline class="lb" points="493,460.8 523.3,439.7 632.1,419.6"/>
<polyline class="lb" points="493.8,464.7 525.5,454.6"/>
<polyline class="lb" points="497.1,480 787.1,415.6"/>
<polyline class="lb" points="498.8,487.5 754.5,427.3"/>
<polyline class="lb" points="499,488.7 535,485.8 722.1,440.6"/>
<polyline class="lb" points="505.8,515.8 536.5,502"/>
<polyline class="lb" points="506.5,518.3 728.8,458"/>
<polyline class="lb" points="507.1,520.8 699.5,467.3"/>
<polyline class="lb" points="508.3,525 673.1,479.6"/>
<polyline class="lb" points="509.7,530 647.8,490.3"/>
<polyline class="lb" points="511.1,535 797.8,453"/>
<polyline class="lb" points="511.6,536.7 770.5,462"/>
<polyline class="lb" points="512.3,539.2 740.5,472.3"/>
<polyline class="lb" points="512.8,540.8 699.5,485.3"/>
<polyline class="lb" points="513.3,542.5 675.5,495.3"/>
<polyline class="lb" points="513.9,544.5 656.5,504.6"/>
<polyline class="lb" points="515.8,550.8 550,549.2 652.1,515.3"/>
<polyline class="lb" points="524.8,578.3 553.1,560.6"/>
<rect class="bg" x="522.2" y="546" width="22" height="6.4" style="fill-opacity:.6"/>
<text class="k" x="533.2" y="550.9">1580 kbp</text>
<rect class="bg" x="509.2" y="496.9" width="22" height="6.4" style="fill-opacity:.6"/>
<text class="k" x="520.2" y="501.8">1600 kbp</text>
<rect class="bg" x="498.9" y="447.1" width="22" height="6.4" style="fill-opacity:.6"/>
<text class="k" x="509.9" y="452">1620 kbp</text>
<rect class="bg" x="491.4" y="396.9" width="22" height="6.4" style="fill-opacity:.6"/>
<text class="k" x="502.4" y="401.8">1640 kbp</text>
<rect class="bg" x="486.7" y="346.4" width="22" height="6.4" style="fill-opacity:.6"/>
<text class="k" x="497.7" y="351.3">1660 kbp</text>
<rect class="bg" x="484.8" y="295.8" width="22" height="6.4" style="fill-opacity:.6"/>
<text class="k" x="495.8" y="300.7">1680 kbp</text>
<rect class="bg" x="484.9" y="245.1" width="22" height="6.4" style="fill-opacity:.6"/>
<text class="k" x="495.9" y="250">1700 kbp</text>
<rect class="bg" x="487.4" y="194.4" width="22" height="6.4" style="fill-opacity:.6"/>
<text class="k" x="498.4" y="199.3">1720 kbp</text>
<rect class="bg" x="492.8" y="144" width="22" height="6.4" style="fill-opacity:.6"/>
<text class="k" x="503.8" y="148.9">1740 kbp</text>
<rect class="bg" x="500.9" y="93.9" width="22" height="6.4" style="fill-opacity:.6"/>
<text class="k" x="511.9" y="98.8">1760 kbp</text>
<rect class="bg" x="511.8" y="44.2" width="22" height="6.4" style="fill-opacity:.6"/>
<text class="k" x="522.8" y="49.1">1780 kbp</text>
<rect class="bg" x="314.4" y="34.5" width="107.8" height="10.5"/>
<rect class="bg" x="310" y="47.5" width="107.8" height="10.5"/>
<rect class="bg" x="307" y="62.9" width="107.8" height="10.5"/>
<rect class="bg" x="304.4" y="76.2" width="107.8" height="10.5"/>
<rect class="bg" x="23.7" y="25.4" width="107.8" height="10.5"/>
<rect class="bg" x="74.7" y="37.5" width="107.8" height="10.5"/>
<rect class="bg" x="149.7" y="58.5" width="107.8" height="10.5"/>
<rect class="bg" x="11.7" y="49.2" width="107.8" height="10.5"/>
<rect class="bg" x="122.9" y="57.9" width="20.6" height="10.5"/>
<rect class="bg" x="174.7" y="83.5" width="107.8" height="10.5"/>
<rect class="bg" x="88.7" y="71.5" width="107.8" height="10.5"/>
<rect class="bg" x="269.9" y="99.5" width="23.6" height="10.5"/>
<rect class="bg" x="54.7" y="83.5" width="107.8" height="10.5"/>
<rect class="bg" x="97.7" y="94.9" width="107.8" height="10.5"/>
<rect class="bg" x="209.7" y="102.5" width="14.8" height="10.5"/>
<rect class="bg" x="182.7" y="114.2" width="107.8" height="10.5"/>
<rect class="bg" x="269.6" y="127.5" width="21.9" height="10.5"/>
<rect class="bg" x="87.3" y="115.2" width="24.2" height="10.5"/>
<rect class="bg" x="92.7" y="128.5" width="107.8" height="10.5"/>
<rect class="bg" x="153.7" y="141.2" width="107.8" height="10.5"/>
<rect class="bg" x="266.7" y="149.2" width="20.8" height="10.5"/>
<rect class="bg" x="77.7" y="152.9" width="107.8" height="10.5"/>
<rect class="bg" x="170.7" y="165.2" width="107.8" height="10.5"/>
<rect class="bg" x="154.7" y="178.5" width="107.8" height="10.5"/>
<rect class="bg" x="177.7" y="189.5" width="107.8" height="10.5"/>
<rect class="bg" x="148" y="193.2" width="24.5" height="10.5"/>
<rect class="bg" x="176.7" y="205.2" width="107.1" height="10.5"/>
<rect class="bg" x="370.9" y="225.9" width="22.9" height="10.5"/>
<rect class="bg" x="258.3" y="226.2" width="24.5" height="10.5"/>
<rect class="bg" x="52" y="218.5" width="107.8" height="10.5"/>
<rect class="bg" x="67.7" y="230.2" width="107.8" height="10.5"/>
<rect class="bg" x="179.4" y="235.9" width="21.4" height="10.5"/>
<rect class="bg" x="204.9" y="239.5" width="22.3" height="10.5"/>
<rect class="bg" x="232.3" y="242.9" width="22.5" height="10.5"/>
<rect class="bg" x="258" y="245.2" width="22.5" height="10.5"/>
<rect class="bg" x="318.9" y="249.5" width="22.3" height="10.5"/>
<rect class="bg" x="344.2" y="255.2" width="22.3" height="10.5"/>
<rect class="bg" x="61" y="261.2" width="107.8" height="10.5"/>
<rect class="bg" x="172.7" y="264.5" width="107.8" height="10.5"/>
<rect class="bg" x="283.7" y="277.5" width="107.8" height="10.5"/>
<rect class="bg" x="172.7" y="289.5" width="107.8" height="10.5"/>
<rect class="bg" x="61" y="295.2" width="107.8" height="10.5"/>
<rect class="bg" x="172.7" y="302.5" width="107.8" height="10.5"/>
<rect class="bg" x="285" y="311.2" width="107.8" height="10.5"/>
<rect class="bg" x="116" y="327.5" width="107.8" height="10.5"/>
<rect class="bg" x="23.2" y="339.5" width="19" height="10.5"/>
<rect class="bg" x="230.3" y="330.2" width="22.5" height="10.5"/>
<rect class="bg" x="259.8" y="330.2" width="23" height="10.5"/>
<rect class="bg" x="46.5" y="344.2" width="21.7" height="10.5"/>
<rect class="bg" x="71" y="341.9" width="107.8" height="10.5"/>
<rect class="bg" x="182.7" y="341.9" width="107.8" height="10.5"/>
<rect class="bg" x="36.7" y="360.2" width="107.8" height="10.5"/>
<rect class="bg" x="148.7" y="356.2" width="107.8" height="10.5"/>
<rect class="bg" x="263.7" y="357.5" width="19.1" height="10.5"/>
<rect class="bg" x="50.8" y="376.2" width="19" height="10.5"/>
<rect class="bg" x="77.5" y="376.2" width="19" height="10.5"/>
<rect class="bg" x="98.5" y="375.2" width="20.3" height="10.5"/>
<rect class="bg" x="124.2" y="375.2" width="20.6" height="10.5"/>
<rect class="bg" x="148.7" y="368.5" width="107.8" height="10.5"/>
<rect class="bg" x="261" y="369.2" width="107.8" height="10.5"/>
<rect class="bg" x="372.7" y="383.5" width="24.5" height="10.5"/>
<rect class="bg" x="383.7" y="396.9" width="15.8" height="10.5"/>
<rect class="bg" x="357.5" y="405.9" width="24" height="10.5"/>
<rect class="bg" x="223.4" y="421.9" width="107.8" height="10.5"/>
<rect class="bg" x="118.4" y="434.5" width="107.8" height="10.5"/>
<rect class="bg" x="385.1" y="429.5" width="19.7" height="10.5"/>
<rect class="bg" x="255.8" y="452.9" width="16.4" height="10.5"/>
<rect class="bg" x="294.8" y="446.9" width="19.7" height="10.5"/>
<rect class="bg" x="319.2" y="445.9" width="20.6" height="10.5"/>
<rect class="bg" x="342.4" y="444.2" width="20.8" height="10.5"/>
<rect class="bg" x="366.3" y="446.2" width="15.2" height="10.5"/>
<rect class="bg" x="181.9" y="481.2" width="21.9" height="10.5"/>
<rect class="bg" x="209.7" y="481.2" width="21.8" height="10.5"/>
<rect class="bg" x="236.4" y="480.2" width="21.8" height="10.5"/>
<rect class="bg" x="272.7" y="460.2" width="107.8" height="10.5"/>
<rect class="bg" x="263.7" y="481.9" width="22.5" height="10.5"/>
<rect class="bg" x="121.8" y="512.5" width="21.4" height="10.5"/>
<rect class="bg" x="118.4" y="500.2" width="107.8" height="10.5"/>
<rect class="bg" x="230" y="498.5" width="24.5" height="10.5"/>
<rect class="bg" x="18.2" y="535.2" width="22.3" height="10.5"/>
<rect class="bg" x="44.2" y="534.5" width="18" height="10.5"/>
<rect class="bg" x="289.4" y="479.2" width="107.8" height="10.5"/>
<rect class="bg" x="63.7" y="526.2" width="107.8" height="10.5"/>
<rect class="bg" x="146" y="514.2" width="107.8" height="10.5"/>
<rect class="bg" x="257" y="498.5" width="107.8" height="10.5"/>
<rect class="bg" x="25" y="559.2" width="107.8" height="10.5"/>
<rect class="bg" x="175.1" y="527.5" width="107.1" height="10.5"/>
<rect class="bg" x="97" y="546.9" width="107.8" height="10.5"/>
<rect class="bg" x="257.7" y="511.2" width="107.8" height="10.5"/>
<rect class="bg" x="370.8" y="513.5" width="24.7" height="10.5"/>
<rect class="bg" x="28.7" y="577.5" width="107.8" height="10.5"/>
<rect class="bg" x="139.8" y="574.2" width="24" height="10.5"/>
<rect class="bg" x="210" y="540.9" width="107.8" height="10.5"/>
<rect class="bg" x="286" y="527.5" width="107.8" height="10.5"/>
<rect class="bg" x="167.7" y="564.2" width="107.8" height="10.5"/>
<rect class="bg" x="281.3" y="560.2" width="27.5" height="10.5"/>
<rect class="bg" x="321.7" y="542.9" width="107.8" height="10.5"/>
<rect class="bg" x="311.7" y="560.2" width="107.8" height="10.5"/>
<rect class="bg" x="539.5" y="38.5" width="107.8" height="10.5"/>
<rect class="bg" x="536.8" y="50.2" width="107.8" height="10.5"/>
<rect class="bg" x="532.8" y="65.5" width="107.8" height="10.5"/>
<rect class="bg" x="684.5" y="111.2" width="107.8" height="10.5"/>
<rect class="bg" x="571.2" y="89.5" width="107.8" height="10.5"/>
<rect class="bg" x="690.2" y="124.2" width="107.8" height="10.5"/>
<rect class="bg" x="567.8" y="103.5" width="107.8" height="10.5"/>
<rect class="bg" x="572.8" y="116.2" width="107.8" height="10.5"/>
<rect class="bg" x="781.2" y="157.5" width="107.8" height="10.5"/>
<rect class="bg" x="684.5" y="141.2" width="107.8" height="10.5"/>
<rect class="bg" x="578.8" y="128.5" width="107.8" height="10.5"/>
<rect class="bg" x="779.5" y="170.2" width="107.8" height="10.5"/>
<rect class="bg" x="749.5" y="166.9" width="24.7" height="10.5"/>
<rect class="bg" x="670.2" y="154.5" width="107.8" height="10.5"/>
<rect class="bg" x="572.8" y="141.9" width="107.8" height="10.5"/>
<rect class="bg" x="516.8" y="148.5" width="21.2" height="10.5"/>
<rect class="bg" x="542.2" y="157.5" width="24.7" height="10.5"/>
<rect class="bg" x="546.2" y="170.9" width="107.8" height="10.5"/>
<rect class="bg" x="657.8" y="178.5" width="27.5" height="10.5"/>
<rect class="bg" x="512.8" y="178.5" width="19.2" height="10.5"/>
<rect class="bg" x="511.8" y="190.2" width="26.7" height="10.5"/>
<rect class="bg" x="566.2" y="199.5" width="26.7" height="10.5"/>
<rect class="bg" x="540.2" y="205.9" width="19" height="10.5"/>
<rect class="bg" x="509.5" y="220.9" width="107.8" height="10.5"/>
<rect class="bg" x="732.8" y="235.2" width="107.8" height="10.5"/>
<rect class="bg" x="621.2" y="232.5" width="107.8" height="10.5"/>
<rect class="bg" x="508.8" y="241.2" width="21.2" height="10.5"/>
<rect class="bg" x="508.8" y="255.9" width="22.5" height="10.5"/>
<rect class="bg" x="507.8" y="269.2" width="23.6" height="10.5"/>
<rect class="bg" x="533.8" y="274.5" width="27.3" height="10.5"/>
<rect class="bg" x="844.5" y="276.2" width="24.2" height="10.5"/>
<rect class="bg" x="732.2" y="279.2" width="107.8" height="10.5"/>
<rect class="bg" x="621.2" y="285.9" width="107.8" height="10.5"/>
<rect class="bg" x="508.8" y="301.9" width="107.8" height="10.5"/>
<rect class="bg" x="509.5" y="317.5" width="107.8" height="10.5"/>
<rect class="bg" x="509.5" y="332.9" width="20.8" height="10.5"/>
<rect class="bg" x="511.8" y="350.9" width="23.6" height="10.5"/>
<rect class="bg" x="563.8" y="353.5" width="22.5" height="10.5"/>
<rect class="bg" x="538.8" y="360.2" width="22.7" height="10.5"/>
<rect class="bg" x="670.2" y="348.5" width="22.8" height="10.5"/>
<rect class="bg" x="706.8" y="348.5" width="17.5" height="10.5"/>
<rect class="bg" x="728.5" y="344.5" width="21.9" height="10.5"/>
<rect class="bg" x="754.5" y="337.5" width="107.8" height="10.5"/>
<rect class="bg" x="624.5" y="360.9" width="107.8" height="10.5"/>
<rect class="bg" x="516.2" y="389.2" width="107.8" height="10.5"/>
<rect class="bg" x="741.2" y="366.2" width="17.9" height="10.5"/>
<rect class="bg" x="678.5" y="377.9" width="107.8" height="10.5"/>
<rect class="bg" x="629.5" y="389.5" width="107.8" height="10.5"/>
<rect class="bg" x="521.2" y="422.5" width="107.8" height="10.5"/>
<rect class="bg" x="632.8" y="413.5" width="107.8" height="10.5"/>
<rect class="bg" x="526.2" y="448.5" width="107.8" height="10.5"/>
<rect class="bg" x="787.8" y="409.5" width="107.8" height="10.5"/>
<rect class="bg" x="755.2" y="421.2" width="107.8" height="10.5"/>
<rect class="bg" x="722.8" y="434.5" width="107.8" height="10.5"/>
<rect class="bg" x="537.2" y="495.9" width="107.8" height="10.5"/>
<rect class="bg" x="729.5" y="451.9" width="18" height="10.5"/>
<rect class="bg" x="700.2" y="461.2" width="27.3" height="10.5"/>
<rect class="bg" x="673.8" y="473.5" width="20.6" height="10.5"/>
<rect class="bg" x="648.5" y="484.2" width="23.4" height="10.5"/>
<rect class="bg" x="798.5" y="446.9" width="19.5" height="10.5"/>
<rect class="bg" x="771.2" y="455.9" width="23.6" height="10.5"/>
<rect class="bg" x="741.2" y="466.2" width="107.8" height="10.5"/>
<rect class="bg" x="700.2" y="479.2" width="107.8" height="10.5"/>
<rect class="bg" x="676.2" y="489.2" width="21.9" height="10.5"/>
<rect class="bg" x="657.2" y="498.5" width="14.8" height="10.5"/>
<rect class="bg" x="652.8" y="509.2" width="15.8" height="10.5"/>
<rect class="bg" x="553.8" y="554.5" width="107.8" height="10.5"/>
<text class="r" x="421.9" y="43.2" text-anchor="end">NMBM04240196_1665</text>
<text class="b" x="417.5" y="56.2" text-anchor="end">NMBM04240196_1659</text>
<text class="b" x="414.5" y="71.7" text-anchor="end">NMBM04240196_1658</text>
<text class="b" x="411.9" y="85" text-anchor="end">NMBM04240196_1655</text>
<text class="b" x="131.2" y="34.1" text-anchor="end">NMBM04240196_1654</text>
<text class="b" x="182.2" y="46.2" text-anchor="end">NMBM04240196_1653</text>
<text class="b" x="257.2" y="67.2" text-anchor="end">NMBM04240196_1651</text>
<text class="b" x="119.2" y="58" text-anchor="end">NMBM04240196_1644</text>
<text class="r s" x="143.2" y="66.7" text-anchor="end">yihY</text>
<text class="r" x="282.2" y="92.2" text-anchor="end">NMBM04240196_1642</text>
<text class="b" x="196.2" y="80.2" text-anchor="end">NMBM04240196_1641</text>
<text class="r s" x="293.2" y="108.2" text-anchor="end">nagZ</text>
<text class="r" x="162.2" y="92.2" text-anchor="end">NMBM04240196_1634</text>
<text class="r" x="205.2" y="103.7" text-anchor="end">NMBM04240196_1633</text>
<text class="r s" x="224.2" y="111.2" text-anchor="end">nth</text>
<text class="r" x="290.2" y="123" text-anchor="end">NMBM04240196_1631</text>
<text class="r s" x="291.2" y="136.2" text-anchor="end">corC</text>
<text class="r s" x="111.2" y="124" text-anchor="end">aspC</text>
<text class="r" x="200.2" y="137.2" text-anchor="end">NMBM04240196_1624</text>
<text class="r" x="261.2" y="149.9" text-anchor="end">NMBM04240196_1622</text>
<text class="r s" x="287.2" y="157.9" text-anchor="end">lpxH</text>
<text class="r" x="185.2" y="161.6" text-anchor="end">NMBM04240196_1619</text>
<text class="r" x="278.2" y="173.9" text-anchor="end">NMBM04240196_1618</text>
<text class="r" x="262.2" y="187.2" text-anchor="end">NMBM04240196_1615</text>
<text class="r" x="285.2" y="198.2" text-anchor="end">NMBM04240196_1613</text>
<text class="r s" x="172.2" y="201.9" text-anchor="end">dnaK</text>
<text class="r" x="283.5" y="213.9" text-anchor="end">NMBM04240196_1611</text>
<text class="r s" x="393.5" y="234.6" text-anchor="end">cysE</text>
<text class="r s" x="282.5" y="234.9" text-anchor="end">apbE</text>
<text class="r" x="159.5" y="227.2" text-anchor="end">NMBM04240196_1605</text>
<text class="r" x="175.2" y="238.9" text-anchor="end">NMBM04240196_1602</text>
<text class="r s" x="200.5" y="244.6" text-anchor="end">nqrF</text>
<text class="r s" x="226.9" y="248.2" text-anchor="end">nqrE</text>
<text class="r s" x="254.5" y="251.6" text-anchor="end">nqrD</text>
<text class="r s" x="280.2" y="253.9" text-anchor="end">nqrC</text>
<text class="r s" x="340.9" y="258.2" text-anchor="end">nqrB</text>
<text class="r s" x="366.2" y="263.9" text-anchor="end">nqrA</text>
<text class="r" x="168.5" y="269.9" text-anchor="end">NMBM04240196_1593</text>
<text class="r" x="280.2" y="273.2" text-anchor="end">NMBM04240196_1592</text>
<text class="b" x="391.2" y="286.2" text-anchor="end">NMBM04240196_1588</text>
<text class="r" x="280.2" y="298.2" text-anchor="end">NMBM04240196_1584</text>
<text class="r" x="168.5" y="303.9" text-anchor="end">NMBM04240196_1583</text>
<text class="r" x="280.2" y="311.2" text-anchor="end">NMBM04240196_1582</text>
<text class="r" x="392.5" y="319.9" text-anchor="end">NMBM04240196_1579</text>
<text class="r" x="223.5" y="336.2" text-anchor="end">NMBM04240196_1577</text>
<text class="r s" x="41.9" y="348.2" text-anchor="end">rplS</text>
<text class="r s" x="252.5" y="338.9" text-anchor="end">trmD</text>
<text class="r s" x="282.5" y="338.9" text-anchor="end">rimM</text>
<text class="r s" x="67.9" y="352.9" text-anchor="end">rpsP</text>
<text class="r" x="178.5" y="350.6" text-anchor="end">NMBM04240196_1572</text>
<text class="r" x="290.2" y="350.6" text-anchor="end">NMBM04240196_1571</text>
<text class="r" x="144.2" y="368.9" text-anchor="end">NMBM04240196_1569</text>
<text class="r" x="256.2" y="364.9" text-anchor="end">NMBM04240196_1568</text>
<text class="r s" x="282.5" y="366.2" text-anchor="end">tatC</text>
<text class="r s" x="69.5" y="384.9" text-anchor="end">tatB</text>
<text class="r s" x="96.2" y="384.9" text-anchor="end">tatA</text>
<text class="r s" x="118.5" y="383.9" text-anchor="end">hinT</text>
<text class="r s" x="144.5" y="383.9" text-anchor="end">hisE</text>
<text class="r" x="256.2" y="377.2" text-anchor="end">NMBM04240196_1561</text>
<text class="r" x="368.5" y="377.9" text-anchor="end">NMBM04240196_1560</text>
<text class="r s" x="396.9" y="392.2" text-anchor="end">amtB</text>
<text class="r s" x="399.2" y="405.6" text-anchor="end">rho</text>
<text class="r s" x="381.2" y="414.6" text-anchor="end">ppsA</text>
<text class="r" x="330.9" y="430.6" text-anchor="end">NMBM04240196_1545</text>
<text class="r" x="225.9" y="443.2" text-anchor="end">NMBM04240196_1546</text>
<text class="r s" x="404.5" y="438.2" text-anchor="end">prfC</text>
<text class="r s" x="271.9" y="461.6" text-anchor="end">hisI</text>
<text class="r s" x="314.2" y="455.6" text-anchor="end">hisF</text>
<text class="r s" x="339.5" y="454.6" text-anchor="end">hisA</text>
<text class="r s" x="362.9" y="452.9" text-anchor="end">hisH</text>
<text class="r s" x="381.2" y="454.9" text-anchor="end">pta</text>
<text class="r s" x="203.5" y="489.9" text-anchor="end">fbpC</text>
<text class="r s" x="231.2" y="489.9" text-anchor="end">fbpB</text>
<text class="r s" x="257.9" y="488.9" text-anchor="end">fbpA</text>
<text class="r" x="380.2" y="468.9" text-anchor="end">NMBM04240196_1531</text>
<text class="r s" x="285.9" y="490.6" text-anchor="end">argH</text>
<text class="r s" x="142.9" y="521.2" text-anchor="end">galU</text>
<text class="r" x="225.9" y="508.9" text-anchor="end">NMBM04240196_1527</text>
<text class="r s" x="254.2" y="507.2" text-anchor="end">nudB</text>
<text class="r s" x="40.2" y="544" text-anchor="end">rdgB</text>
<text class="r s" x="61.9" y="543.2" text-anchor="end">ppa</text>
<text class="b" x="396.9" y="487.9" text-anchor="end">NMBM04240196_1521</text>
<text class="b" x="171.2" y="535" text-anchor="end">NMBM04240196_1520</text>
<text class="b" x="253.5" y="523" text-anchor="end">NMBM04240196_1519</text>
<text class="b" x="364.5" y="507.2" text-anchor="end">NMBM04240196_1515</text>
<text class="b" x="132.5" y="568" text-anchor="end">NMBM04240196_1512</text>
<text class="b" x="281.9" y="536.2" text-anchor="end">NMBM04240196_1511</text>
<text class="b" x="204.5" y="555.7" text-anchor="end">NMBM04240196_1510</text>
<text class="b" x="365.2" y="520" text-anchor="end">NMBM04240196_1509</text>
<text class="r s" x="395.2" y="522.2" text-anchor="end">apaH</text>
<text class="r" x="136.2" y="586.2" text-anchor="end">NMBM04240196_1504</text>
<text class="r s" x="163.5" y="583" text-anchor="end">nspA</text>
<text class="r" x="317.5" y="549.7" text-anchor="end">NMBM04240196_1502</text>
<text class="r" x="393.5" y="536.2" text-anchor="end">NMBM04240196_1501</text>
<text class="r" x="275.2" y="573" text-anchor="end">NMBM04240196_1500</text>
<text class="r s" x="308.5" y="569" text-anchor="end">ampD</text>
<text class="b" x="429.2" y="551.7" text-anchor="end">NMBM04240196_1494</text>
<text class="r" x="419.2" y="569" text-anchor="end">NMBM04240196_1487</text>
<text class="b" x="540" y="47.2">NMBM04240196_1664</text>
<text class="b" x="537.3" y="59">NMBM04240196_1663</text>
<text class="b" x="533.3" y="74.2">NMBM04240196_1662</text>
<text class="b" x="685" y="120">NMBM04240196_1661</text>
<text class="b" x="571.7" y="98.2">NMBM04240196_1660</text>
<text class="b" x="690.7" y="132.9">NMBM04240196_1657</text>
<text class="b" x="568.3" y="112.2">NMBM04240196_1656</text>
<text class="b" x="573.3" y="125">NMBM04240196_1652</text>
<text class="b" x="781.7" y="166.2">NMBM04240196_1650</text>
<text class="b" x="685" y="149.9">NMBM04240196_1649</text>
<text class="b" x="579.3" y="137.2">NMBM04240196_1646</text>
<text class="b" x="780" y="178.9">NMBM04240196_1640</text>
<text class="b s" x="750" y="175.6">queD</text>
<text class="b" x="670.7" y="163.2">NMBM04240196_1638</text>
<text class="b" x="573.3" y="150.6">NMBM04240196_1637</text>
<text class="b s" x="517.3" y="157.2">gluP</text>
<text class="b s" x="542.7" y="166.2">nhaC</text>
<text class="b" x="546.7" y="179.6">NMBM04240196_1623</text>
<text class="b s" x="658.3" y="187.2">hemC</text>
<text class="b s" x="513.3" y="187.2">smc</text>
<text class="b s" x="512.3" y="198.9">macA</text>
<text class="b s" x="566.7" y="208.2">macB</text>
<text class="b s" x="540.7" y="214.6">priA</text>
<text class="b" x="510" y="229.6">NMBM04240196_1610</text>
<text class="b" x="733.3" y="243.9">NMBM04240196_1609</text>
<text class="b" x="621.7" y="241.2">NMBM04240196_1608</text>
<text class="b s" x="509.3" y="249.9">ubiB</text>
<text class="b s" x="509.3" y="264.6">gcvT</text>
<text class="b s" x="508.3" y="277.9">gcvH</text>
<text class="b s" x="534.3" y="283.2">hemA</text>
<text class="b s" x="845" y="284.9">nosD</text>
<text class="b" x="732.7" y="287.9">NMBM04240196_1586</text>
<text class="b" x="621.7" y="294.6">NMBM04240196_1585</text>
<text class="b" x="509.3" y="310.6">NMBM04240196_1581</text>
<text class="b" x="510" y="326.2">NMBM04240196_1580</text>
<text class="b s" x="510" y="341.6">yajC</text>
<text class="b s" x="512.3" y="359.6">secD</text>
<text class="b s" x="564.3" y="362.2">secF</text>
<text class="b s" x="539.3" y="368.9">rpsO</text>
<text class="b s" x="670.7" y="357.2">potG</text>
<text class="b s" x="707.3" y="357.2">potI</text>
<text class="b s" x="729" y="353.2">potH</text>
<text class="b" x="755" y="346.2">NMBM04240196_1555</text>
<text class="b" x="625" y="369.6">NMBM04240196_1551</text>
<text class="b" x="516.7" y="397.9">NMBM04240196_1547</text>
<text class="b s" x="741.7" y="374.9">lolA</text>
<text class="b" x="679" y="386.6">NMBM04240196_1543</text>
<text class="b" x="630" y="398.2">NMBM04240196_1542</text>
<text class="b" x="521.7" y="431.2">NMBM04240196_1541</text>
<text class="b" x="633.3" y="422.2">NMBM04240196_1523</text>
<text class="b" x="526.7" y="457.2">NMBM04240196_1522</text>
<text class="b" x="788.3" y="418.2">NMBM04240196_1513</text>
<text class="b" x="755.7" y="429.9">NMBM04240196_1508</text>
<text class="b" x="723.3" y="443.2">NMBM04240196_1507</text>
<text class="b" x="537.7" y="504.6">NMBM04240196_1498</text>
<text class="b s" x="730" y="460.6">tmk</text>
<text class="b s" x="700.7" y="469.9">maeB</text>
<text class="b s" x="674.3" y="482.2">lpxK</text>
<text class="b s" x="649" y="492.9">kdsB</text>
<text class="b s" x="799" y="455.6">trpA</text>
<text class="b s" x="771.7" y="464.6">accD</text>
<text class="b" x="741.7" y="474.9">NMBM04240196_1486</text>
<text class="b" x="700.7" y="487.9">NMBM04240196_1485</text>
<text class="b s" x="676.7" y="497.9">pyrC</text>
<text class="b s" x="657.7" y="507.2">rnc</text>
<text class="b s" x="653.3" y="518">era</text>
<text class="b" x="554.3" y="563.2">NMBM04240196_1468</text>
<rect class="bg" x="287" y="574.5" width="325" height="17.5" style="fill-opacity:.75"/>
<path d="M495.7 570A947.1 947.1 0 0 0 504.5 596" stroke="#808080" stroke-width="3.1" fill="none"/>
<path d="M494.7 570A948 948 0 0 0 503.5 596" stroke="#a6a6a6" stroke-width="1.2" fill="none"/>
<path d="M496.6 570A946.2 946.2 0 0 0 505.4 596" stroke="#6c6c6c" stroke-width="1.4" fill="none"/>
<text class="t" x="290.8" y="588" textLength="318" lengthAdjust="spacing">Neisseria meningitidis M04-240196, complete genome. - 0..2250449</text>
<rect x="839.5" y="10" width="10.5" height="10.5" fill="#f00"/><rect x="839.5" y="25.8" width="10.5" height="10.2" fill="#00f"/>
<text class="lg" x="855.7" y="18.9" textLength="35.4" lengthAdjust="spacing">Forward</text><text class="lg" x="855.7" y="33.9" textLength="33.7" lengthAdjust="spacing">Reverse</text>
</svg></body></html>
